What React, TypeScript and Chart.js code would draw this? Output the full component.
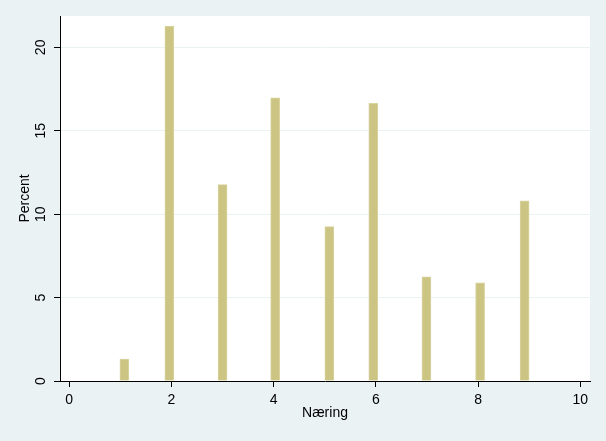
import React, { useEffect, useRef } from "react";
import { Chart, registerables } from "chart.js";

Chart.register(...registerables);

// Bin centres (Næring) and bar heights (Percent)
const binCenters: number[] = [1.08, 1.96, 3.0, 4.03, 5.09, 5.95, 6.99, 8.04, 8.91];
const percentValues: number[] = [1.32, 21.28, 11.77, 16.98, 9.25, 16.65, 6.24, 5.88, 10.8];
const xTickValues: number[] = [0, 2, 4, 6, 8, 10];
const yTickValues: number[] = [0, 5, 10, 15, 20];
const xTitle = "Næring";
const yTitle = "Percent";

const FONT = "'Liberation Sans', Arial, sans-serif";

export default function App() {
  const canvasRef = useRef<HTMLCanvasElement | null>(null);

  useEffect(() => {
    document.body.style.margin = "0";
    const canvas = canvasRef.current;
    if (!canvas) return;

    const bgPlugin = {
      id: "bgPlugin",
      beforeDraw(chart: any) {
        const { ctx, chartArea } = chart;
        ctx.save();
        ctx.fillStyle = "#EAF2F3";
        ctx.fillRect(0, 0, chart.width, chart.height);
        ctx.fillStyle = "#FFFFFF";
        ctx.fillRect(chartArea.left, chartArea.top, chartArea.right - chartArea.left, chartArea.bottom - chartArea.top);
        ctx.restore();
      },
    };

    const chart = new Chart(canvas, {
      type: "bar",
      data: {
        datasets: [
          {
            data: binCenters.map((x, i) => ({ x, y: percentValues[i] })),
            backgroundColor: "#CCC483",
            borderColor: "#D9D3A0",
            borderWidth: 1,
            barThickness: 9,
          },
        ],
      },
      options: {
        responsive: false,
        animation: false,
        devicePixelRatio: 1,
        layout: { padding: { left: 0, top: 16, right: 16, bottom: 0 } },
        plugins: {
          legend: { display: false },
          tooltip: { enabled: false },
        },
        scales: {
          x: {
            type: "linear",
            min: -0.18,
            max: 10.19,
            offset: false,
            afterBuildTicks: (scale: any) => {
              scale.ticks = xTickValues.map((v) => ({ value: v }));
            },
            afterFit: (scale: any) => {
              scale.height = 60;
            },
            grid: {
              offset: false,
              drawOnChartArea: false,
              drawTicks: true,
              tickLength: 6,
              tickColor: "#000000",
              tickWidth: 1,
            },
            border: { display: true, color: "#000000", width: 1 },
            ticks: {
              color: "#000000",
              font: { family: FONT, size: 14 },
              padding: 5,
              autoSkip: false,
              maxRotation: 0,
              minRotation: 0,
            },
            title: {
              display: true,
              text: xTitle,
              color: "#000000",
              font: { family: FONT, size: 14 },
              padding: { top: 0, bottom: 19 },
            },
          },
          y: {
            type: "linear",
            min: 0,
            max: 21.88,
            afterBuildTicks: (scale: any) => {
              scale.ticks = yTickValues.map((v) => ({ value: v }));
            },
            afterFit: (scale: any) => {
              scale.width = 60;
            },
            grid: {
              drawOnChartArea: true,
              color: "#EAF2F3",
              lineWidth: 1,
              drawTicks: true,
              tickLength: 6,
              tickColor: "#000000",
              tickWidth: 1,
            },
            border: { display: true, color: "#000000", width: 1 },
            ticks: {
              color: "#000000",
              font: { family: FONT, size: 14 },
              padding: 5,
              autoSkip: false,
              minRotation: 90,
              maxRotation: 90,
              crossAlign: "center",
            },
            title: {
              display: true,
              text: yTitle,
              color: "#000000",
              font: { family: FONT, size: 14 },
              padding: { top: 17, bottom: 0 },
            },
          },
        },
      },
      plugins: [bgPlugin],
    } as any);

    return () => {
      chart.destroy();
    };
  }, []);

  return (
    <div style={{ width: 606, height: 441 }}>
      <canvas ref={canvasRef} width={606} height={441} style={{ display: "block" }} />
    </div>
  );
}
